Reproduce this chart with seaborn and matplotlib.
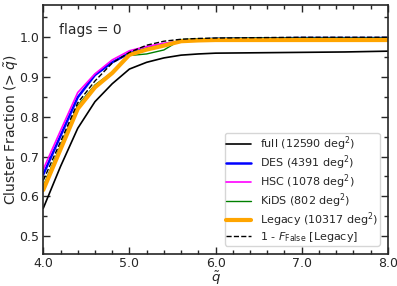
import numpy as np
import pandas as pd
import matplotlib
matplotlib.use("Agg")
import matplotlib.pyplot as plt
import seaborn as sns
from matplotlib.ticker import MultipleLocator

q = [4.0, 4.2, 4.4, 4.6, 4.8, 5.0, 5.2, 5.4, 5.6, 5.8, 6.0, 6.5, 7.0, 7.5, 8.0]
q_hsc = [4.0, 4.2, 4.4, 4.6, 4.8, 5.0, 5.2, 5.4, 5.6, 5.8, 6.0, 6.4, 6.8]

full = [0.570, 0.675, 0.771, 0.838, 0.883, 0.920, 0.937, 0.948, 0.955, 0.958, 0.960, 0.961, 0.962, 0.963, 0.965]
des = [0.655, 0.752, 0.849, 0.905, 0.937, 0.960, 0.972, 0.982, 0.990, 0.994, 0.996, 0.997, 0.998, 0.998, 0.998]
hsc = [0.668, 0.765, 0.861, 0.908, 0.943, 0.966, 0.977, 0.985, 0.990, 0.993, 0.995, 0.996, 0.997]
kids = [0.626, 0.727, 0.828, 0.880, 0.912, 0.954, 0.958, 0.968, 0.994, 0.996, 0.997, 0.998, 0.998, 0.998, 0.998]
legacy = [0.616, 0.718, 0.820, 0.874, 0.910, 0.956, 0.969, 0.979, 0.990, 0.992, 0.993, 0.993, 0.993, 0.993, 0.993]
ffalse = [0.640, 0.737, 0.835, 0.890, 0.935, 0.962, 0.980, 0.990, 0.995, 0.997, 0.998, 0.999, 1.000, 1.000, 1.000]

labels = ["full (12590 deg$^2$)", "DES (4391 deg$^2$)", "HSC (1078 deg$^2$)",
          "KiDS (802 deg$^2$)", "Legacy (10317 deg$^2$)", "1 - $F_{\\rm False}$ [Legacy]"]

sns.set_style("ticks")
plt.rcParams['font.family'] = ['DejaVu Sans']
plt.rcParams['mathtext.fontset'] = 'dejavusans'

fig = plt.figure(figsize=(3.97, 2.86), dpi=100)
ax = fig.add_axes([0.109, 0.112, 0.868, 0.869])

series = [
    (q, full, labels[0], "black", 1.2, "-"),
    (q, des, labels[1], "blue", 1.8, "-"),
    (q_hsc, hsc, labels[2], "magenta", 1.2, "-"),
    (q, kids, labels[3], "green", 1.0, "-"),
    (q, legacy, labels[4], "orange", 3.0, "-"),
    (q, ffalse, labels[5], "black", 1.0, "--"),
]
for x, y, lab, c, lw, ls in series:
    df = pd.DataFrame({"q": x, "frac": y})
    sns.lineplot(data=df, x="q", y="frac", ax=ax, color=c, lw=lw, ls=ls, label=lab)

ax.set_xlim(4.0, 8.0)
ax.set_ylim(0.455, 1.08)
ax.xaxis.set_major_locator(MultipleLocator(1.0))
ax.xaxis.set_minor_locator(MultipleLocator(0.2))
ax.yaxis.set_major_locator(MultipleLocator(0.1))
ax.yaxis.set_minor_locator(MultipleLocator(0.05))
ax.xaxis.set_major_formatter(matplotlib.ticker.FormatStrFormatter('%.1f'))
ax.yaxis.set_major_formatter(matplotlib.ticker.FormatStrFormatter('%.1f'))
ax.tick_params(which='both', direction='in', top=True, right=True, labelsize=9)
ax.tick_params(axis='y', which='major', pad=3)
ax.tick_params(axis='x', which='major', pad=2.5)
ax.tick_params(which='major', length=5, width=1)
ax.tick_params(which='minor', length=3, width=1)
for s in ax.spines.values():
    s.set_linewidth(1.2)

ax.set_xlabel(r"$\tilde{q}$", fontsize=9.5)
ax.set_ylabel(r"Cluster Fraction (> $\tilde{q}$)", fontsize=10)
ax.yaxis.set_label_coords(-0.066, 0.5)
ax.xaxis.set_label_coords(0.5, -0.062)
ax.text(0.046, 0.885, "flags = 0", transform=ax.transAxes, fontsize=10)

ax.legend(loc="lower right", fontsize=8, handlelength=2.2, labelspacing=0.05,
          borderpad=0.15, borderaxespad=0.75, frameon=True)

fig.savefig("out.png", dpi=100)
